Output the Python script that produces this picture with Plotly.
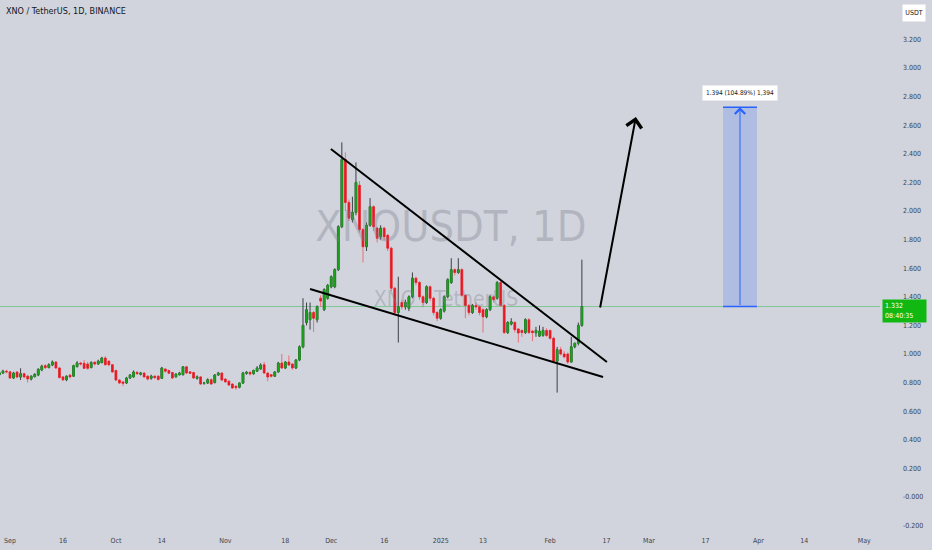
import plotly.graph_objects as go
import pandas as pd

# ---------------- data ----------------
first_day = "2024-08-29"
open_ = [
    0.855, 0.867, 0.880, 0.875, 0.832, 0.874, 0.839, 0.862, 0.845, 0.825,
    0.842, 0.853, 0.888, 0.918, 0.905, 0.923, 0.944, 0.902, 0.840, 0.820,
    0.852, 0.845, 0.912, 0.937, 0.935, 0.930, 0.905, 0.942, 0.930, 0.940,
    0.972, 0.950, 0.925, 0.885, 0.818, 0.805, 0.797, 0.832, 0.840, 0.872,
    0.858, 0.867, 0.845, 0.830, 0.845, 0.845, 0.830, 0.895, 0.885, 0.870,
    0.840, 0.855, 0.855, 0.910, 0.875, 0.870, 0.830, 0.840, 0.795, 0.797,
    0.820, 0.800, 0.853, 0.867, 0.825, 0.810, 0.790, 0.775, 0.768, 0.797,
    0.865, 0.872, 0.862, 0.880, 0.895, 0.925, 0.867, 0.855, 0.845, 0.874,
    0.937, 0.902, 0.944, 0.930, 0.902, 0.958, 1.050, 1.220, 1.240, 1.290,
    1.240, 1.390, 1.310, 1.390, 1.470, 1.470, 1.590, 1.890, 2.360, 2.060,
    1.940, 1.990, 2.180, 1.870, 1.750, 1.900, 2.030, 1.880, 1.820, 1.880,
    1.830, 1.740, 1.460, 1.290, 1.360, 1.330, 1.320, 1.400, 1.530, 1.500,
    1.400, 1.360, 1.470, 1.390, 1.290, 1.250, 1.300, 1.400, 1.500, 1.590,
    1.570, 1.590, 1.410, 1.340, 1.290, 1.340, 1.330, 1.310, 1.260, 1.310,
    1.400, 1.390, 1.500, 1.340, 1.150, 1.210, 1.220, 1.175, 1.165, 1.150,
    1.240, 1.160, 1.148, 1.125, 1.130, 1.165, 1.165, 1.110, 0.950, 1.030,
    1.000, 1.000, 0.944, 1.050, 1.075, 1.200,
]
high = [
    0.880, 0.890, 0.890, 0.880, 0.875, 0.880, 0.900, 0.870, 0.855, 0.850,
    0.865, 0.900, 0.925, 0.930, 0.935, 0.955, 0.950, 0.910, 0.845, 0.850,
    0.860, 0.925, 0.950, 0.945, 0.958, 0.945, 0.950, 0.950, 0.960, 0.980,
    0.985, 0.955, 0.930, 0.890, 0.825, 0.810, 0.840, 0.860, 0.885, 0.880,
    0.875, 0.870, 0.850, 0.855, 0.850, 0.850, 0.910, 0.900, 0.890, 0.875,
    0.865, 0.875, 0.915, 0.915, 0.880, 0.875, 0.850, 0.845, 0.805, 0.830,
    0.830, 0.860, 0.875, 0.872, 0.830, 0.815, 0.795, 0.780, 0.800, 0.875,
    0.880, 0.878, 0.890, 0.915, 0.935, 0.945, 0.870, 0.860, 0.880, 0.945,
    1.000, 0.950, 0.990, 0.935, 0.965, 1.060, 1.390, 1.360, 1.360, 1.300,
    1.340, 1.410, 1.460, 1.490, 1.550, 1.600, 1.900, 2.480, 2.410, 2.080,
    2.100, 2.340, 2.210, 1.880, 1.920, 2.090, 2.040, 1.890, 1.900, 1.890,
    1.840, 1.750, 1.470, 1.540, 1.380, 1.380, 1.410, 1.570, 1.540, 1.510,
    1.410, 1.480, 1.480, 1.400, 1.300, 1.320, 1.410, 1.530, 1.670, 1.600,
    1.670, 1.600, 1.420, 1.350, 1.350, 1.360, 1.340, 1.320, 1.320, 1.410,
    1.410, 1.510, 1.510, 1.350, 1.230, 1.250, 1.230, 1.180, 1.170, 1.250,
    1.250, 1.170, 1.190, 1.200, 1.190, 1.180, 1.170, 1.120, 1.050, 1.050,
    1.020, 1.010, 1.120, 1.080, 1.220, 1.660,
]
low = [
    0.850, 0.860, 0.865, 0.825, 0.825, 0.830, 0.818, 0.830, 0.800, 0.815,
    0.835, 0.845, 0.880, 0.895, 0.900, 0.915, 0.895, 0.830, 0.810, 0.810,
    0.830, 0.840, 0.905, 0.920, 0.895, 0.890, 0.900, 0.920, 0.925, 0.935,
    0.920, 0.915, 0.870, 0.810, 0.790, 0.775, 0.790, 0.825, 0.835, 0.855,
    0.850, 0.835, 0.815, 0.820, 0.825, 0.815, 0.825, 0.870, 0.860, 0.825,
    0.835, 0.850, 0.850, 0.860, 0.860, 0.825, 0.820, 0.785, 0.785, 0.790,
    0.785, 0.795, 0.848, 0.810, 0.800, 0.775, 0.755, 0.750, 0.760, 0.790,
    0.855, 0.850, 0.855, 0.875, 0.890, 0.860, 0.810, 0.835, 0.840, 0.870,
    0.895, 0.895, 0.915, 0.890, 0.895, 0.950, 1.040, 1.200, 1.170, 1.155,
    1.220, 1.330, 1.300, 1.380, 1.460, 1.460, 1.580, 1.880, 2.000, 1.930,
    1.920, 1.970, 1.850, 1.640, 1.720, 1.890, 1.860, 1.780, 1.800, 1.800,
    1.720, 1.440, 1.270, 1.080, 1.310, 1.310, 1.300, 1.390, 1.480, 1.380,
    1.340, 1.350, 1.370, 1.270, 1.230, 1.240, 1.290, 1.390, 1.490, 1.550,
    1.560, 1.400, 1.250, 1.270, 1.280, 1.310, 1.270, 1.150, 1.250, 1.300,
    1.360, 1.380, 1.330, 1.140, 1.140, 1.200, 1.150, 1.080, 1.120, 1.140,
    1.140, 1.090, 1.120, 1.120, 1.120, 1.120, 1.100, 0.940, 0.730, 0.990,
    0.970, 0.930, 0.940, 1.040, 1.060, 1.190,
]
close = [
    0.868, 0.880, 0.875, 0.832, 0.867, 0.839, 0.862, 0.840, 0.825, 0.845,
    0.858, 0.893, 0.915, 0.905, 0.925, 0.944, 0.902, 0.835, 0.820, 0.845,
    0.840, 0.918, 0.937, 0.930, 0.900, 0.900, 0.940, 0.930, 0.950, 0.972,
    0.925, 0.925, 0.874, 0.818, 0.797, 0.795, 0.832, 0.853, 0.874, 0.862,
    0.867, 0.840, 0.825, 0.845, 0.835, 0.822, 0.902, 0.880, 0.866, 0.832,
    0.860, 0.867, 0.910, 0.867, 0.865, 0.832, 0.840, 0.790, 0.797, 0.820,
    0.790, 0.853, 0.867, 0.818, 0.805, 0.783, 0.762, 0.765, 0.797, 0.867,
    0.872, 0.860, 0.885, 0.902, 0.923, 0.867, 0.839, 0.845, 0.874, 0.937,
    0.902, 0.944, 0.923, 0.902, 0.958, 1.050, 1.200, 1.310, 1.290, 1.250,
    1.330, 1.370, 1.450, 1.480, 1.540, 1.590, 1.890, 2.360, 2.060, 1.950,
    1.990, 2.200, 1.870, 1.750, 1.900, 2.030, 1.890, 1.810, 1.880, 1.820,
    1.740, 1.460, 1.290, 1.330, 1.330, 1.360, 1.400, 1.530, 1.500, 1.400,
    1.360, 1.470, 1.390, 1.290, 1.250, 1.310, 1.400, 1.520, 1.590, 1.570,
    1.590, 1.410, 1.340, 1.290, 1.340, 1.330, 1.290, 1.260, 1.310, 1.400,
    1.380, 1.500, 1.340, 1.150, 1.220, 1.225, 1.170, 1.147, 1.150, 1.240,
    1.150, 1.150, 1.165, 1.160, 1.165, 1.130, 1.110, 0.950, 1.030, 1.000,
    0.980, 0.944, 1.050, 1.075, 1.200, 1.332,
]
assert len(open_) == len(high) == len(low) == len(close)

y_tick_vals = [-0.2, 0.0, 0.2, 0.4, 0.6, 0.8, 1.0, 1.2, 1.4, 1.6, 1.8,
               2.0, 2.2, 2.4, 2.6, 2.8, 3.0, 3.2]
y_tick_text = ["-0.200", "-0.000", "0.200", "0.400", "0.600", "0.800",
               "1.000", "1.200", "1.400", "1.600", "1.800", "2.000",
               "2.200", "2.400", "2.600", "2.800", "3.000", "3.200"]
x_tick_vals = ["2024-09-01", "2024-09-16", "2024-10-01", "2024-10-14",
               "2024-11-01", "2024-11-18", "2024-12-01", "2024-12-16",
               "2025-01-01", "2025-01-13", "2025-02-01", "2025-02-17",
               "2025-03-01", "2025-03-17", "2025-04-01", "2025-04-14",
               "2025-05-01"]
x_tick_text = ["Sep", "16", "Oct", "14", "Nov", "18", "Dec", "16", "2025",
               "13", "Feb", "17", "Mar", "17", "Apr", "14", "May"]

last_price = 1.332
target_price = 2.726
# drawing anchors (date, price)
upper_line = [("2024-11-30 21:36", 2.434), ("2025-02-17 02:24", 0.944)]
lower_line = [("2024-11-25 00:00", 1.455), ("2025-02-16 00:00", 0.839)]
big_arrow = [("2025-02-15 02:24", 1.315), ("2025-02-25 07:12", 2.657)]
measure_x = ["2025-03-22 00:00", "2025-03-31 14:24"]
measure_mid = "2025-03-26 19:12"

# ---------------- styling ----------------
BG = "#d1d4dc"
UP = "#1aa31a"
DN = "#e31b24"
WICK_UP = "#3c3f44"
WICK_DN = "#ee6f78"
NARROW = "DejaVu Sans Condensed, Liberation Sans Narrow, sans-serif"
TXT = "#3f424a"

dates = pd.date_range(first_day, periods=len(close), freq="D")
body_hi = [max(o, c) for o, c in zip(open_, close)]
body_lo = [min(o, c) for o, c in zip(open_, close)]

fig = go.Figure()

# watermarks (behind candles)
fig.add_trace(go.Scatter(
    x=["2025-01-03 21:36"], y=[1.867], mode="text", text=["XNOUSDT, 1D"],
    textfont=dict(size=43, color="rgba(120,124,136,0.34)", family=NARROW),
    hoverinfo="skip", showlegend=False))
fig.add_trace(go.Scatter(
    x=["2025-01-02 12:00"], y=[1.371], mode="text", text=["XNO / TetherUS"],
    textfont=dict(size=21, color="rgba(120,124,136,0.34)", family=NARROW),
    hoverinfo="skip", showlegend=False))

# candles: wicks + bodies
fig.add_trace(go.Candlestick(
    x=dates, open=open_, high=high, low=low, close=close,
    increasing=dict(line=dict(color=WICK_UP, width=1), fillcolor=UP),
    decreasing=dict(line=dict(color=WICK_DN, width=1), fillcolor=DN),
    whiskerwidth=0, hoverinfo="skip", showlegend=False))
fig.add_trace(go.Candlestick(
    x=dates, open=open_, high=body_hi, low=body_lo, close=close,
    increasing=dict(line=dict(color=UP, width=0.5), fillcolor=UP),
    decreasing=dict(line=dict(color=DN, width=0.5), fillcolor=DN),
    whiskerwidth=0, hoverinfo="skip", showlegend=False))

shapes = [
    dict(type="line", xref="paper", x0=0, x1=1, yref="y", y0=last_price, y1=last_price,
         line=dict(color="rgba(60,190,90,0.55)", width=1), layer="below"),
    dict(type="line", xref="x", yref="y", x0=upper_line[0][0], y0=upper_line[0][1],
         x1=upper_line[1][0], y1=upper_line[1][1], line=dict(color="black", width=2)),
    dict(type="line", xref="x", yref="y", x0=lower_line[0][0], y0=lower_line[0][1],
         x1=lower_line[1][0], y1=lower_line[1][1], line=dict(color="black", width=2)),
    dict(type="rect", xref="x", yref="y", x0=measure_x[0], x1=measure_x[1],
         y0=last_price, y1=target_price, fillcolor="rgba(41,98,255,0.2)",
         line=dict(width=0)),
    dict(type="line", xref="x", yref="y", x0=measure_x[0], x1=measure_x[1],
         y0=target_price, y1=target_price, line=dict(color="#2962ff", width=1.5)),
    dict(type="line", xref="x", yref="y", x0=measure_x[0], x1=measure_x[1],
         y0=last_price, y1=last_price, line=dict(color="#2962ff", width=1.5)),
]

annotations = [
    dict(xref="x", yref="y", x=big_arrow[1][0], y=big_arrow[1][1],
         axref="x", ayref="y", ax=big_arrow[0][0], ay=big_arrow[0][1],
         text="", showarrow=True, arrowhead=4, arrowsize=1.5, arrowwidth=2,
         arrowcolor="black"),
    dict(xref="x", yref="y", x=measure_mid, y=target_price,
         axref="x", ayref="y", ax=measure_mid, ay=last_price,
         text="", showarrow=True, arrowhead=4, arrowsize=2, arrowwidth=1,
         arrowcolor="#2962ff"),
    dict(xref="x", yref="y", x=measure_mid, y=2.822, text="1.394 (104.89%) 1,394",
         showarrow=False, bgcolor="white", borderpad=3,
         font=dict(size=6.5, color="#131722", family=NARROW)),
    dict(xref="paper", yref="paper", x=0.004, y=1 - 11 / 530, xanchor="left",
         yanchor="middle", text="XNO / TetherUS, 1D, BINANCE", showarrow=False,
         font=dict(size=9, color="#131722", family=NARROW)),
    dict(xref="paper", yref="paper", x=914 / 880, y=1 - 12.5 / 530, xanchor="center",
         yanchor="middle", text="USDT", showarrow=False, bgcolor="white",
         width=18, height=12, borderpad=2,
         font=dict(size=7, color="#131722", family=NARROW)),
    dict(xref="paper", yref="y", x=882 / 880, y=1.301, xanchor="left",
         yanchor="middle", text="1.332<br>08:40:35", showarrow=False,
         bgcolor="#12b812", borderpad=2, align="left", width=39, height=18,
         font=dict(size=7, color="white", family=NARROW)),
]

fig.update_layout(
    width=932, height=550,
    margin=dict(l=0, r=52, t=0, b=20, autoexpand=False),
    paper_bgcolor=BG, plot_bgcolor=BG,
    showlegend=False,
    shapes=shapes, annotations=annotations,
    xaxis=dict(type="date", range=["2024-08-29 04:00", "2025-05-05 11:00"],
               rangeslider=dict(visible=False), showgrid=False, zeroline=False,
               tickvals=x_tick_vals, ticktext=x_tick_text, ticks="",
               ticklabelstandoff=5,
               tickfont=dict(size=7, color=TXT, family=NARROW), showline=False,
               automargin=False),
    yaxis=dict(side="right", range=[-0.2308, 3.4755], showgrid=False, zeroline=False,
               tickvals=y_tick_vals, ticktext=y_tick_text, ticks="",
               ticklabelstandoff=22, automargin=False,
               tickfont=dict(size=7, color=TXT, family=NARROW), showline=False),
)

fig.write_html(
    "out.html",
    config={"displayModeBar": False, "staticPlot": True},
    post_script="document.body.style.margin='0';"
                "document.body.style.background='%s';"
                "document.documentElement.style.overflow='hidden';" % BG,
)
